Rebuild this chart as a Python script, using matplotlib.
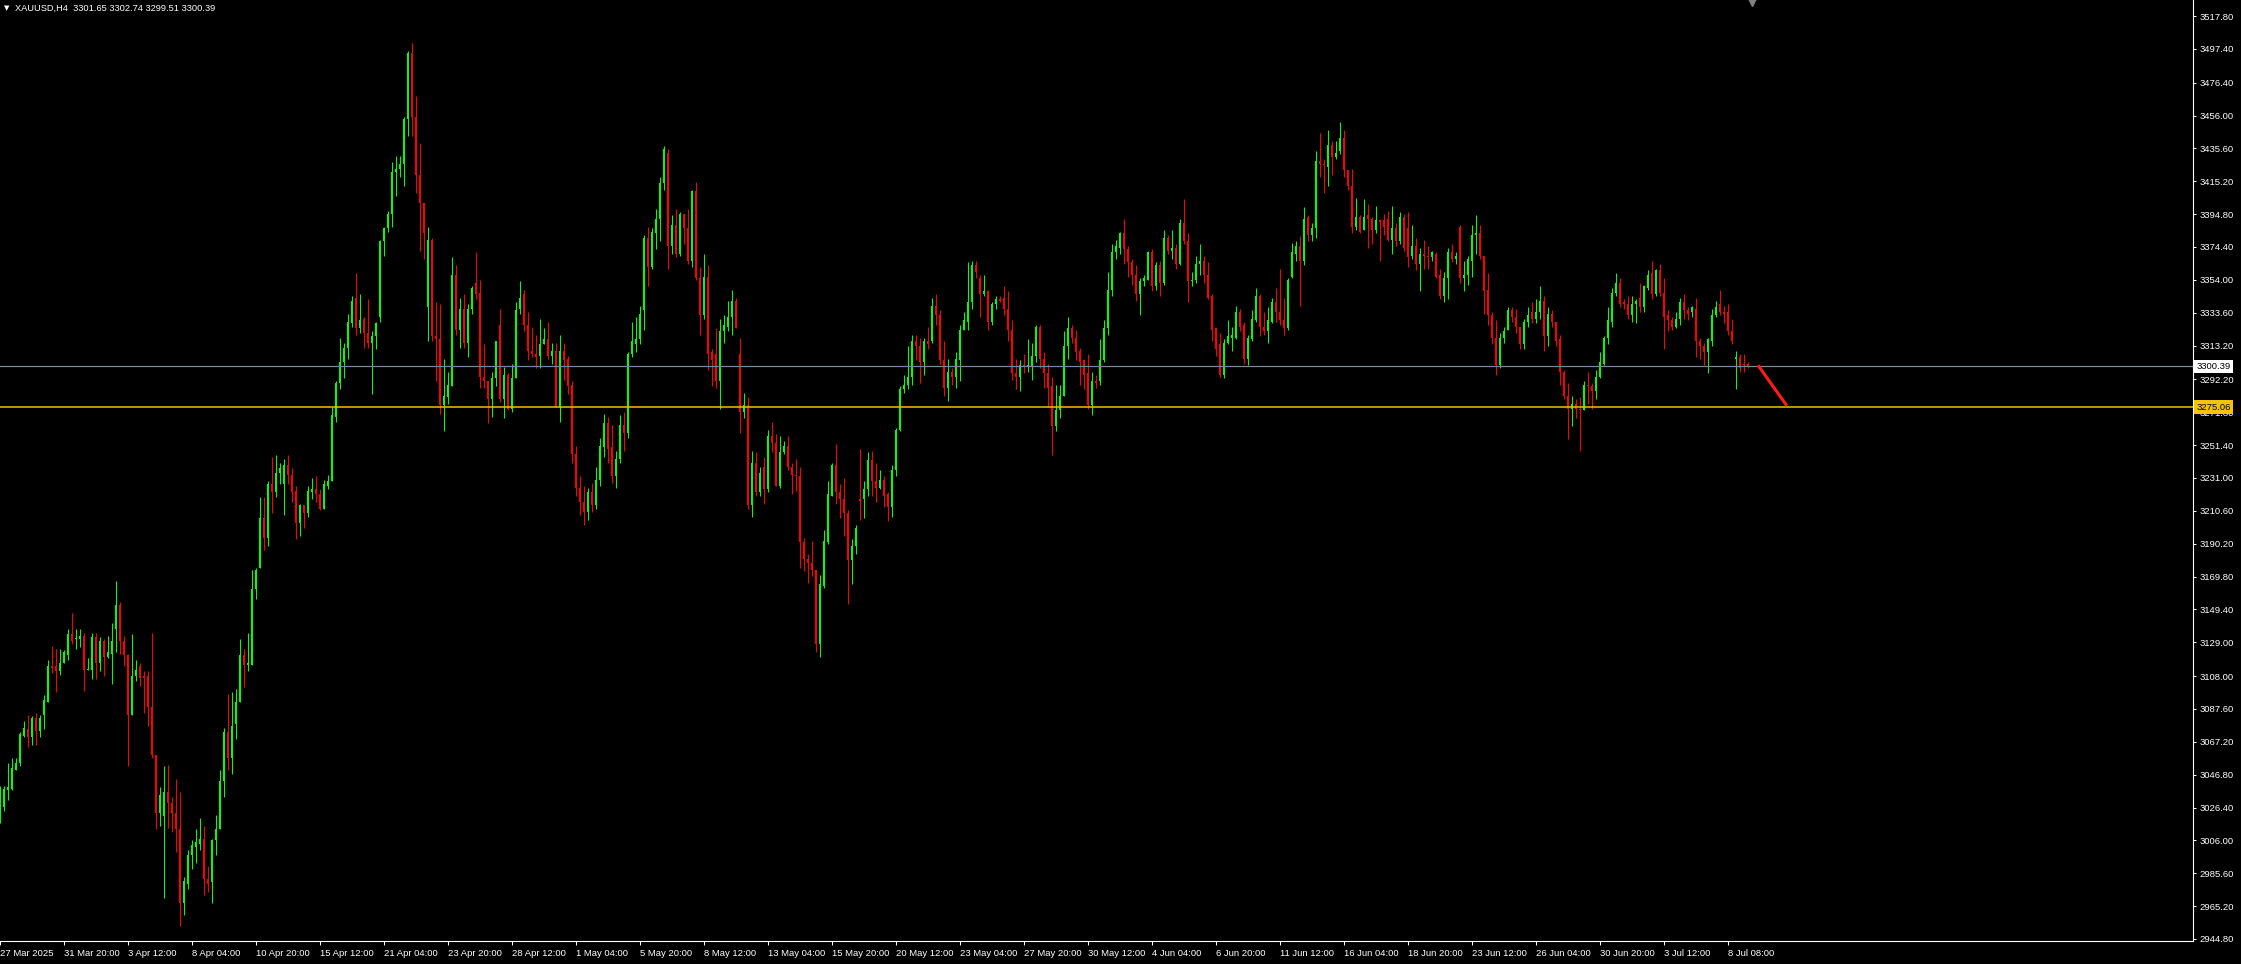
import matplotlib
matplotlib.use("Agg")
import matplotlib.pyplot as plt
import numpy as np
from matplotlib.transforms import blended_transform_factory

plt.rcParams['font.family'] = ['Liberation Sans', 'DejaVu Sans']

# XAUUSD H4 candles, 27 Mar 2025 -> 9 Jul 2025
opens = [
    3021, 3027, 3037, 3038, 3050, 3054, 3071, 3075, 3070, 3082,
    3074, 3084, 3092, 3114, 3114, 3111, 3116, 3121, 3134, 3131,
    3131, 3133, 3112, 3112, 3132, 3116, 3130, 3120, 3122, 3137,
    3152, 3130, 3121, 3084, 3108, 3114, 3108, 3108, 3089, 3059,
    3023, 3021, 3036, 3029, 3023, 3013, 2967, 2979, 2997, 3002,
    3004, 3007, 2982, 2980, 3006, 3013, 3043, 3073, 3057, 3078,
    3092, 3121, 3115, 3115, 3162, 3175, 3206, 3194, 3227, 3222,
    3234, 3227, 3239, 3233, 3223, 3203, 3214, 3209, 3222, 3224,
    3221, 3212, 3226, 3229, 3269, 3290, 3303, 3312, 3327, 3343,
    3324, 3330, 3321, 3315, 3319, 3331, 3378, 3386, 3395, 3421,
    3423, 3426, 3454, 3495, 3455, 3419, 3402, 3337, 3379, 3319,
    3317, 3276, 3281, 3288, 3357, 3323, 3336, 3315, 3336, 3352,
    3346, 3294, 3291, 3280, 3293, 3326, 3280, 3295, 3274, 3293,
    3336, 3345, 3326, 3310, 3308, 3307, 3314, 3317, 3307, 3310,
    3275, 3310, 3305, 3289, 3246, 3225, 3216, 3210, 3222, 3214,
    3230, 3250, 3265, 3250, 3232, 3243, 3264, 3259, 3308, 3314,
    3317, 3335, 3380, 3362, 3383, 3392, 3414, 3433, 3375, 3388,
    3370, 3395, 3386, 3366, 3409, 3355, 3332, 3356, 3309, 3308,
    3291, 3322, 3325, 3331, 3341, 3308, 3272, 3276, 3214, 3240,
    3222, 3238, 3224, 3257, 3253, 3226, 3247, 3251, 3238, 3233,
    3232, 3191, 3181, 3178, 3174, 3128, 3164, 3191, 3220, 3239,
    3222, 3218, 3209, 3180, 3189, 3218, 3218, 3224, 3242, 3229,
    3225, 3230, 3221, 3213, 3236, 3261, 3286, 3289, 3294, 3316,
    3313, 3303, 3316, 3316, 3338, 3332, 3304, 3287, 3297, 3294,
    3304, 3323, 3328, 3340, 3363, 3355, 3345, 3347, 3328, 3339,
    3342, 3343, 3336, 3323, 3296, 3294, 3301, 3300, 3300, 3307,
    3325, 3305, 3296, 3288, 3263, 3273, 3282, 3313, 3324, 3318,
    3310, 3304, 3296, 3276, 3291, 3291, 3304, 3324, 3348, 3371,
    3374, 3383, 3373, 3365, 3357, 3345, 3353, 3354, 3371, 3350,
    3363, 3352, 3380, 3372, 3374, 3364, 3389, 3378, 3353, 3354,
    3364, 3366, 3357, 3344, 3324, 3314, 3295, 3315, 3318, 3318,
    3334, 3326, 3305, 3317, 3329, 3344, 3325, 3322, 3328, 3340,
    3334, 3329, 3324, 3356, 3370, 3375, 3366, 3393, 3382, 3386,
    3428, 3426, 3424, 3438, 3430, 3434, 3442, 3422, 3412, 3387,
    3393, 3385, 3394, 3392, 3385, 3391, 3391, 3392, 3379, 3386,
    3378, 3393, 3386, 3369, 3375, 3364, 3370, 3369, 3368, 3370,
    3357, 3344, 3355, 3371, 3367, 3387, 3355, 3357, 3366, 3382,
    3383, 3369, 3348, 3332, 3318, 3301, 3318, 3323, 3335, 3331,
    3325, 3314, 3328, 3334, 3330, 3334, 3341, 3319, 3333, 3328,
    3317, 3297, 3282, 3274, 3277, 3274, 3273, 3289, 3288, 3285,
    3294, 3302, 3318, 3328, 3346, 3352, 3340, 3339, 3332, 3339,
    3343, 3337, 3349, 3358, 3345, 3360, 3346, 3332, 3329, 3325,
    3330, 3340, 3335, 3334, 3336, 3316, 3313, 3309, 3316, 3332,
    3339, 3334, 3334, 3322, 3305, 3306, 3302, 3301.65,
]
highs = [
    3040, 3040, 3054, 3057, 3057, 3073, 3080, 3084, 3083, 3085,
    3084, 3096, 3118, 3127, 3125, 3125, 3124, 3137, 3147, 3137,
    3137, 3135, 3119, 3135, 3135, 3132, 3131, 3133, 3141, 3167,
    3154, 3133, 3122, 3134, 3118, 3116, 3111, 3111, 3135, 3059,
    3039, 3052, 3053, 3033, 3044, 3036, 2983, 3000, 3006, 3013,
    3020, 3015, 2990, 3007, 3022, 3050, 3076, 3097, 3098, 3100,
    3131, 3125, 3135, 3174, 3175, 3219, 3219, 3229, 3244, 3245,
    3240, 3243, 3245, 3237, 3226, 3215, 3214, 3226, 3231, 3232,
    3224, 3230, 3233, 3275, 3291, 3318, 3315, 3333, 3344, 3358,
    3345, 3331, 3342, 3322, 3328, 3379, 3387, 3397, 3427, 3431,
    3431, 3455, 3496, 3501, 3468, 3439, 3402, 3387, 3380, 3340,
    3339, 3305, 3297, 3368, 3363, 3343, 3345, 3339, 3350, 3371,
    3354, 3314, 3291, 3297, 3316, 3336, 3300, 3296, 3302, 3340,
    3353, 3348, 3334, 3325, 3320, 3330, 3324, 3328, 3315, 3315,
    3320, 3315, 3307, 3291, 3251, 3232, 3226, 3225, 3228, 3238,
    3256, 3271, 3269, 3264, 3248, 3270, 3272, 3309, 3328, 3331,
    3338, 3382, 3387, 3386, 3398, 3418, 3437, 3435, 3394, 3398,
    3396, 3395, 3398, 3410, 3415, 3362, 3370, 3363, 3311, 3324,
    3330, 3332, 3341, 3348, 3343, 3318, 3284, 3281, 3248, 3247,
    3238, 3244, 3261, 3266, 3258, 3257, 3254, 3257, 3240, 3243,
    3238, 3194, 3184, 3192, 3174, 3171, 3199, 3229, 3240, 3252,
    3227, 3231, 3211, 3193, 3202, 3249, 3229, 3247, 3248, 3240,
    3236, 3232, 3222, 3239, 3262, 3288, 3295, 3313, 3320, 3320,
    3318, 3318, 3325, 3343, 3345, 3335, 3316, 3305, 3299, 3309,
    3326, 3334, 3365, 3366, 3366, 3357, 3357, 3348, 3340, 3344,
    3344, 3350, 3347, 3329, 3305, 3304, 3308, 3317, 3315, 3326,
    3326, 3309, 3302, 3294, 3289, 3289, 3322, 3331, 3326, 3323,
    3312, 3305, 3308, 3297, 3295, 3317, 3329, 3359, 3376, 3379,
    3384, 3392, 3375, 3367, 3363, 3355, 3357, 3372, 3373, 3365,
    3366, 3385, 3382, 3385, 3376, 3392, 3404, 3383, 3359, 3369,
    3376, 3369, 3365, 3345, 3324, 3321, 3317, 3329, 3325, 3338,
    3336, 3328, 3320, 3335, 3349, 3345, 3334, 3337, 3343, 3349,
    3361, 3343, 3355, 3377, 3378, 3381, 3399, 3394, 3389, 3434,
    3445, 3429, 3447, 3440, 3440, 3452, 3447, 3422, 3423, 3405,
    3394, 3404, 3401, 3393, 3400, 3392, 3395, 3397, 3400, 3389,
    3396, 3395, 3396, 3388, 3380, 3374, 3379, 3375, 3372, 3371,
    3361, 3359, 3374, 3376, 3371, 3388, 3366, 3369, 3388, 3394,
    3388, 3369, 3358, 3334, 3329, 3321, 3325, 3337, 3337, 3336,
    3325, 3330, 3337, 3340, 3342, 3350, 3344, 3337, 3335, 3328,
    3320, 3298, 3290, 3282, 3280, 3281, 3291, 3297, 3290, 3298,
    3309, 3319, 3337, 3349, 3358, 3355, 3342, 3344, 3344, 3342,
    3352, 3351, 3360, 3366, 3361, 3364, 3355, 3335, 3331, 3334,
    3343, 3345, 3337, 3338, 3343, 3318, 3315, 3318, 3336, 3341,
    3348, 3338, 3339, 3330, 3310, 3308, 3308, 3302.74,
]
lows = [
    3017, 3024, 3031, 3037, 3050, 3052, 3070, 3064, 3065, 3065,
    3070, 3075, 3092, 3110, 3098, 3109, 3116, 3118, 3128, 3125,
    3126, 3099, 3112, 3106, 3106, 3111, 3108, 3119, 3103, 3123,
    3122, 3114, 3052, 3084, 3105, 3102, 3085, 3077, 3057, 3013,
    3015, 2970, 3014, 3011, 2999, 2953, 2960, 2976, 2988, 2992,
    3000, 2972, 2974, 2967, 2997, 3013, 3033, 3050, 3047, 3069,
    3092, 3101, 3111, 3115, 3156, 3175, 3186, 3189, 3209, 3219,
    3227, 3208, 3227, 3216, 3193, 3195, 3200, 3207, 3218, 3216,
    3211, 3212, 3224, 3229, 3266, 3286, 3293, 3305, 3325, 3320,
    3321, 3312, 3312, 3283, 3311, 3328, 3369, 3384, 3387, 3406,
    3418, 3412, 3443, 3443, 3408, 3372, 3367, 3316, 3316, 3291,
    3271, 3260, 3277, 3288, 3320, 3312, 3312, 3306, 3333, 3342,
    3287, 3287, 3265, 3269, 3288, 3278, 3268, 3273, 3272, 3293,
    3333, 3322, 3304, 3306, 3299, 3299, 3314, 3305, 3302, 3275,
    3266, 3292, 3283, 3240, 3220, 3208, 3202, 3205, 3210, 3212,
    3226, 3244, 3240, 3228, 3225, 3240, 3248, 3256, 3306, 3309,
    3314, 3323, 3350, 3361, 3373, 3378, 3410, 3361, 3370, 3368,
    3369, 3376, 3364, 3362, 3354, 3320, 3330, 3298, 3288, 3287,
    3274, 3315, 3322, 3320, 3324, 3259, 3268, 3212, 3207, 3220,
    3220, 3215, 3222, 3247, 3226, 3225, 3246, 3236, 3221, 3223,
    3175, 3173, 3166, 3170, 3123, 3120, 3163, 3190, 3220, 3215,
    3206, 3195, 3153, 3165, 3184, 3205, 3206, 3220, 3220, 3216,
    3224, 3213, 3204, 3207, 3232, 3260, 3284, 3286, 3289, 3304,
    3290, 3295, 3311, 3315, 3326, 3302, 3282, 3279, 3289, 3287,
    3291, 3323, 3323, 3336, 3355, 3331, 3344, 3323, 3326, 3336,
    3340, 3332, 3316, 3292, 3286, 3285, 3296, 3297, 3292, 3303,
    3299, 3287, 3275, 3245, 3260, 3268, 3282, 3305, 3315, 3304,
    3289, 3286, 3274, 3270, 3287, 3289, 3303, 3320, 3344, 3367,
    3370, 3364, 3356, 3351, 3341, 3332, 3350, 3354, 3347, 3348,
    3344, 3351, 3370, 3367, 3361, 3363, 3376, 3340, 3350, 3352,
    3357, 3352, 3342, 3316, 3307, 3294, 3293, 3314, 3310, 3317,
    3322, 3302, 3301, 3316, 3328, 3319, 3320, 3315, 3327, 3328,
    3326, 3320, 3323, 3355, 3366, 3338, 3363, 3378, 3378, 3380,
    3418, 3408, 3412, 3419, 3429, 3432, 3418, 3410, 3383, 3385,
    3383, 3385, 3374, 3376, 3383, 3366, 3382, 3378, 3370, 3375,
    3376, 3372, 3362, 3367, 3360, 3347, 3361, 3361, 3366, 3355,
    3342, 3340, 3342, 3365, 3364, 3352, 3347, 3351, 3356, 3370,
    3367, 3333, 3326, 3314, 3295, 3299, 3315, 3323, 3328, 3321,
    3311, 3311, 3325, 3327, 3327, 3330, 3310, 3313, 3325, 3313,
    3289, 3280, 3255, 3263, 3268, 3248, 3273, 3277, 3274, 3280,
    3293, 3301, 3314, 3325, 3344, 3337, 3336, 3330, 3328, 3327,
    3334, 3334, 3348, 3342, 3344, 3344, 3311, 3322, 3323, 3324,
    3326, 3330, 3329, 3331, 3306, 3305, 3301, 3296, 3313, 3331,
    3332, 3327, 3320, 3314, 3286, 3297, 3297, 3299.51,
]
closes = [
    3036, 3038, 3039, 3051, 3054, 3072, 3076, 3070, 3082, 3074,
    3082, 3093, 3114, 3113, 3111, 3116, 3123, 3134, 3130, 3131,
    3133, 3112, 3112, 3132, 3116, 3130, 3120, 3123, 3130, 3152,
    3130, 3121, 3084, 3108, 3112, 3107, 3107, 3089, 3059, 3023,
    3034, 3036, 3029, 3023, 3013, 2967, 2981, 2997, 3003, 3005,
    3007, 2982, 2979, 3006, 3013, 3043, 3073, 3057, 3077, 3092,
    3121, 3115, 3116, 3162, 3174, 3206, 3194, 3227, 3222, 3234,
    3237, 3239, 3233, 3222, 3203, 3214, 3209, 3223, 3224, 3221,
    3212, 3227, 3229, 3270, 3290, 3303, 3312, 3328, 3341, 3324,
    3329, 3321, 3315, 3319, 3327, 3378, 3386, 3395, 3421, 3423,
    3426, 3454, 3495, 3455, 3419, 3402, 3383, 3379, 3319, 3317,
    3276, 3282, 3289, 3357, 3323, 3336, 3315, 3336, 3349, 3345,
    3294, 3291, 3280, 3293, 3316, 3280, 3295, 3274, 3293, 3335,
    3343, 3326, 3310, 3308, 3306, 3314, 3317, 3307, 3310, 3275,
    3310, 3304, 3288, 3246, 3225, 3216, 3210, 3222, 3214, 3230,
    3251, 3265, 3249, 3232, 3243, 3264, 3259, 3308, 3316, 3317,
    3333, 3380, 3362, 3384, 3392, 3414, 3435, 3375, 3388, 3370,
    3395, 3386, 3366, 3409, 3355, 3332, 3356, 3308, 3304, 3291,
    3322, 3326, 3331, 3341, 3324, 3272, 3276, 3214, 3240, 3222,
    3234, 3224, 3257, 3253, 3226, 3247, 3251, 3238, 3233, 3232,
    3191, 3181, 3178, 3174, 3128, 3165, 3192, 3221, 3239, 3222,
    3218, 3209, 3180, 3189, 3200, 3217, 3224, 3242, 3229, 3225,
    3230, 3220, 3213, 3236, 3261, 3286, 3289, 3294, 3316, 3313,
    3303, 3316, 3314, 3338, 3332, 3304, 3287, 3297, 3294, 3305,
    3323, 3329, 3340, 3363, 3359, 3345, 3347, 3328, 3339, 3342,
    3341, 3336, 3323, 3296, 3294, 3301, 3300, 3301, 3307, 3325,
    3305, 3296, 3287, 3263, 3273, 3282, 3313, 3324, 3318, 3309,
    3303, 3295, 3276, 3291, 3290, 3304, 3324, 3348, 3371, 3375,
    3383, 3373, 3365, 3357, 3345, 3353, 3355, 3371, 3350, 3363,
    3352, 3380, 3372, 3374, 3364, 3389, 3378, 3353, 3354, 3364,
    3366, 3357, 3343, 3323, 3311, 3295, 3315, 3319, 3320, 3334,
    3325, 3305, 3318, 3330, 3344, 3325, 3322, 3329, 3340, 3334,
    3329, 3324, 3354, 3371, 3375, 3366, 3392, 3382, 3386, 3428,
    3426, 3425, 3438, 3430, 3433, 3442, 3422, 3412, 3387, 3393,
    3384, 3393, 3392, 3385, 3391, 3390, 3387, 3379, 3386, 3378,
    3393, 3374, 3368, 3375, 3364, 3370, 3369, 3368, 3371, 3356,
    3344, 3355, 3371, 3367, 3369, 3355, 3357, 3367, 3382, 3383,
    3369, 3347, 3332, 3318, 3301, 3318, 3322, 3335, 3331, 3325,
    3314, 3328, 3332, 3330, 3334, 3341, 3319, 3333, 3328, 3316,
    3297, 3282, 3274, 3277, 3274, 3273, 3289, 3288, 3285, 3294,
    3303, 3318, 3329, 3346, 3352, 3339, 3339, 3332, 3339, 3341,
    3337, 3350, 3357, 3345, 3360, 3346, 3331, 3329, 3325, 3330,
    3340, 3335, 3333, 3337, 3316, 3313, 3309, 3317, 3332, 3337,
    3334, 3333, 3322, 3316, 3306, 3299, 3301, 3300.39,
]

time_labels = [
    '27 Mar 2025', '31 Mar 20:00', '3 Apr 12:00', '8 Apr 04:00', '10 Apr 20:00',
    '15 Apr 12:00', '21 Apr 04:00', '23 Apr 20:00', '28 Apr 12:00', '1 May 04:00',
    '5 May 20:00', '8 May 12:00', '13 May 04:00', '15 May 20:00', '20 May 12:00',
    '23 May 04:00', '27 May 20:00', '30 May 12:00', '4 Jun 04:00', '6 Jun 20:00',
    '11 Jun 12:00', '16 Jun 04:00', '18 Jun 20:00', '23 Jun 12:00', '26 Jun 04:00',
    '30 Jun 20:00', '3 Jul 12:00', '8 Jul 08:00',
]
bars_per_label = 16

price_ticks = [
    3517.80, 3497.40, 3476.40, 3456.00, 3435.60, 3415.20, 3394.80, 3374.40,
    3354.00, 3333.60, 3313.20, 3292.20, 3271.80, 3251.40, 3231.00, 3210.60,
    3190.20, 3169.80, 3149.40, 3129.00, 3108.00, 3087.60, 3067.20, 3046.80,
    3026.40, 3006.00, 2985.60, 2965.20, 2944.80,
]

bid_price = 3300.39
support_level = 3275.06
header = 'XAUUSD,H4  3301.65 3302.74 3299.51 3300.39'

# pixel geometry of the terminal window
W, H = 2241, 964
plot_right = 2193
top_tick_px = 16       # y of the highest price tick
low_tick_px = 939      # y of the lowest price tick
plot_bottom = 941      # y of the time axis line
px_per_point = (low_tick_px - top_tick_px) / (price_ticks[0] - price_ticks[-1])
bar_px = 4

fig = plt.figure(figsize=(W / 100, H / 100), dpi=100, facecolor='black')
ax = fig.add_axes([0, (H - plot_bottom) / H, plot_right / W, plot_bottom / H],
                  facecolor='black')

o = np.array(opens, dtype=float)
h = np.array(highs, dtype=float)
l = np.array(lows, dtype=float)
c = np.array(closes, dtype=float)
x = np.arange(len(c))

bull = '#00ff00'
bear = '#ff0000'
colors = np.where(c >= o, bull, bear)

# wicks and bodies
ax.vlines(x, l, h, colors=colors, linewidth=0.75)
body = np.maximum(np.abs(c - o), 0.6)
ax.bar(x, body, bottom=np.minimum(o, c), width=0.72, color=colors, linewidth=0)

# horizontal levels
ax.axhline(bid_price, color='#778899', linewidth=0.9)
ax.axhline(support_level, color='#f0c000', linewidth=1.1)

# red projection line from current price down to the level
arrow_x = [len(c) + 1.5, len(c) + 8.7]
ax.plot(arrow_x, [bid_price + 0.6, support_level + 0.8], color='#ff1a1a',
        linewidth=2.2, solid_capstyle='butt')

ax.set_xlim(0, plot_right / bar_px)
ax.set_ylim(price_ticks[-1] - (plot_bottom - low_tick_px) / px_per_point,
            price_ticks[0] + top_tick_px / px_per_point)

for side in ['top', 'left']:
    ax.spines[side].set_visible(False)
for side in ['right', 'bottom']:
    ax.spines[side].set_color('white')
    ax.spines[side].set_linewidth(0.8)

ax.yaxis.tick_right()
ax.set_yticks(price_ticks)
ax.set_yticklabels([f'{v:.2f}' for v in price_ticks])
ax.set_xticks(np.arange(len(time_labels)) * bars_per_label)
ax.set_xticklabels(time_labels, ha='left')
ax.tick_params(axis='y', colors='white', length=2.5, width=0.7, pad=2,
               labelsize=6.8)
ax.tick_params(axis='x', colors='white', length=3, width=0.7, pad=2.5,
               labelsize=6.8)

# price tags on the right axis
tag = blended_transform_factory(ax.transAxes, ax.transData)
ax.text(1.0016, bid_price, f'{bid_price:.2f}', transform=tag, fontsize=6.8,
        color='black', va='center', ha='left', clip_on=False,
        bbox=dict(boxstyle='square,pad=0.22', fc='white', ec='none'))
ax.text(1.0016, support_level, f'{support_level:.2f}', transform=tag,
        fontsize=6.8, color='black', va='center', ha='left', clip_on=False,
        bbox=dict(boxstyle='square,pad=0.22', fc='#f5c400', ec='none'))

# chart-shift marker at top
ax.plot([len(c)], [ax.get_ylim()[1]], marker='v', color='#808080',
        markersize=8, clip_on=False)

# header
fig.text(4 / W, 1 - 8 / H, '\u25bc', color='white', fontsize=5,
         va='center', ha='left', family=['DejaVu Sans'])
fig.text(15 / W, 1 - 8 / H, header, color='white', fontsize=6.7,
         va='center', ha='left')

fig.savefig('out.png', dpi=100, facecolor='black')
